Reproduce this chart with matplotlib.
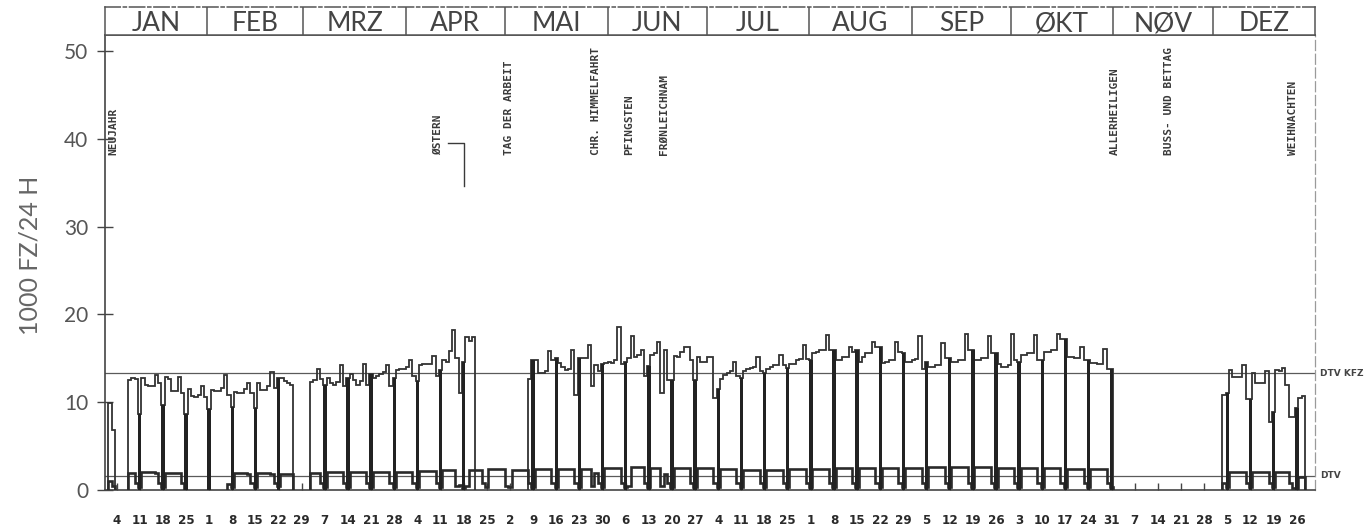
import numpy as np
import pandas as pd
import matplotlib
matplotlib.use("Agg")
import matplotlib.pyplot as plt
import matplotlib.transforms as mtransforms

nan = np.nan

# ---------------- data: 1000 vehicles / 24 h, daily values, 1976 ----------------
kfz_jan = [nan, 9.9, 6.8, nan, nan, nan, nan,
           12.5, 12.8, 12.6, 8.6,
           12.7, 12.0, 11.9, 11.9, 13.1, 12.2, 9.7,
           12.9, 12.6, 11.3, 11.3, 12.9, 11.0, 8.6,
           11.5, 10.7, 10.6, 10.8, 11.8, 10.6]
kfz_feb = [9.2,
           11.4, 11.3, 11.3, 11.6, 13.1, 10.8, 9.5,
           11.2, 11.0, 11.0, 11.5, 12.2, 11.0, 9.3,
           12.2, 11.4, 11.4, 11.8, 13.4, 11.6, 12.7,
           12.7, 12.4, 12.2, 12.0, nan, nan, nan]
kfz_mar = [nan, nan, 12.3, 12.5, 13.8, 12.6, 12.0,
           12.7, 12.2, 12.0, 12.3, 14.2, 11.8, 12.7,
           13.2, 12.5, 12.0, 12.4, 14.4, 12.0, 13.2,
           12.8, 13.0, 13.2, 13.4, 14.2, 11.8, 12.7,
           13.7, 13.8, 13.8]
kfz_apr = [14.0, 14.8, 13.0, 12.4,
           14.2, 14.4, 14.4, 14.4, 15.3, 13.0, 13.7,
           14.8, 14.6, 15.8, 18.2, 15.0, 11.0, 14.6,
           17.4, 17.0, 17.4, nan, nan, nan, nan,
           nan, nan, nan, nan, nan]
kfz_mai = [nan, nan,
           nan, nan, nan, nan, nan, 12.6, 14.8,
           14.8, 13.3, 13.3, 13.5, 15.8, 14.8, 15.0,
           14.5, 14.0, 13.7, 13.8, 15.9, 10.8, 15.0,
           15.0, 15.0, 16.5, 11.8, 14.2, 13.6, 14.4,
           14.5]
kfz_jun = [14.6, 14.5, 14.8, 18.6, 14.4, 14.6,
           15.0, 17.5, 15.2, 15.4, 16.0, 13.0, 14.1,
           15.4, 15.6, 16.9, 11.0, 15.9, 12.5, 12.5,
           15.3, 15.2, 15.7, 16.3, 16.3, 14.8, 12.5,
           15.2, 14.6, 14.6]
kfz_jul = [15.2, 15.2, 10.5, 11.5,
           12.6, 13.1, 13.3, 13.5, 14.6, 13.0, 12.7,
           13.6, 13.8, 13.9, 14.0, 15.2, 13.5, 13.3,
           13.8, 14.0, 14.2, 14.2, 15.4, 14.2, 13.9,
           14.3, 14.4, 14.8, 14.9, 16.5, 14.9]
kfz_aug = [14.8,
           15.6, 15.7, 15.9, 16.0, 17.7, 15.9, 15.9,
           14.8, 14.8, 15.2, 15.2, 16.3, 15.7, 15.9,
           14.6, 15.2, 15.6, 15.6, 16.9, 16.3, 16.3,
           14.5, 14.6, 14.8, 14.8, 16.9, 15.7, 15.6,
           14.6, 14.6]
kfz_sep = [14.8, 14.9, 17.5, 13.8, 14.6,
           14.0, 14.0, 14.2, 14.2, 16.7, 15.0, 15.0,
           14.6, 14.6, 14.8, 14.8, 17.8, 15.9, 15.9,
           14.8, 14.8, 15.0, 15.0, 17.5, 15.6, 15.6,
           14.4, 14.0, 14.0, 14.2]
kfz_okt = [17.8, 14.8, 14.6,
           15.4, 15.4, 15.6, 15.6, 17.7, 14.8, 14.8,
           15.7, 15.7, 15.9, 15.9, 17.8, 17.2, 17.2,
           15.2, 15.2, 15.0, 15.0, 16.3, 14.8, 14.8,
           14.5, 14.5, 14.4, 14.4, 16.1, 13.8, 13.8]
kfz_nov = [nan] * 30
kfz_dez = [nan, nan, nan, 10.8, 11.0,
           13.7, 12.9, 12.9, 12.9, 14.2, 10.4, 10.4,
           13.3, 12.2, 12.2, 12.2, 13.5, 7.8, 8.9,
           13.7, 13.5, 13.9, 12.0, 8.3, 8.3, 9.3,
           10.5, 10.7, nan, nan, nan]

sv_jan = [nan, 1.0, 0.5, nan, nan, nan, nan,
          1.9, 1.9, 0.8, 0.3,
          2.0, 2.0, 2.0, 2.0, 1.9, 0.8, 0.3,
          1.9, 1.9, 1.9, 1.9, 1.9, 0.8, nan,
          nan, nan, nan, nan, nan, nan]
sv_feb = [nan,
          nan, nan, nan, nan, nan, 0.7, 0.3,
          1.9, 1.9, 1.9, 1.9, 1.8, 0.8, 0.3,
          1.9, 1.9, 1.9, 1.9, 1.8, 0.8, 0.4,
          1.8, 1.8, 1.8, 1.8, nan, nan, nan]
sv_mar = [nan, nan, 1.9, 1.9, 1.9, 0.8, 0.3,
          2.0, 2.0, 2.0, 2.0, 2.0, 0.8, 0.3,
          2.0, 2.0, 2.0, 2.0, 2.0, 0.8, 0.3,
          2.1, 2.1, 2.1, 2.1, 2.1, 0.8, 0.3,
          2.1, 2.1, 2.1]
sv_apr = [2.1, 2.1, 0.8, 0.3,
          2.2, 2.2, 2.2, 2.2, 2.2, 0.8, 0.3,
          2.3, 2.3, 2.3, 2.3, 0.4, 0.6, 0.2,
          0.4, 2.3, 2.3, 2.3, 2.3, 0.8, 0.3,
          2.4, 2.4, 2.4, 2.4, 2.4]
sv_mai = [0.4, 0.3,
          2.3, 2.3, 2.3, 2.3, 2.3, 0.8, 0.3,
          2.4, 2.4, 2.4, 2.4, 2.4, 0.8, 0.3,
          2.4, 2.4, 2.4, 2.4, 2.4, 0.8, 0.3,
          2.4, 2.4, 2.4, 0.4, 1.9, 0.8, 0.3,
          2.5]
sv_jun = [2.5, 2.5, 2.5, 2.5, 0.8, 0.3,
          0.4, 2.6, 2.6, 2.6, 2.6, 0.8, 0.3,
          2.5, 2.5, 2.5, 0.5, 1.8, 0.8, 0.3,
          2.5, 2.5, 2.5, 2.5, 2.5, 0.8, 0.3,
          2.5, 2.5, 2.5]
sv_jul = [2.5, 2.5, 0.8, 0.3,
          2.4, 2.4, 2.4, 2.4, 2.4, 0.8, 0.3,
          2.3, 2.3, 2.3, 2.3, 2.3, 0.8, 0.3,
          2.3, 2.3, 2.3, 2.3, 2.3, 0.8, 0.3,
          2.4, 2.4, 2.4, 2.4, 2.4, 0.8]
sv_aug = [0.3,
          2.4, 2.4, 2.4, 2.4, 2.4, 0.8, 0.3,
          2.5, 2.5, 2.5, 2.5, 2.5, 0.8, 0.3,
          2.5, 2.5, 2.5, 2.5, 2.5, 0.8, 0.3,
          2.5, 2.5, 2.5, 2.5, 2.5, 0.8, 0.3,
          2.5, 2.5]
sv_sep = [2.5, 2.5, 2.5, 0.8, 0.3,
          2.6, 2.6, 2.6, 2.6, 2.6, 0.8, 0.3,
          2.6, 2.6, 2.6, 2.6, 2.6, 0.8, 0.3,
          2.6, 2.6, 2.6, 2.6, 2.6, 0.8, 0.3,
          2.5, 2.5, 2.5, 2.5]
sv_okt = [2.5, 0.8, 0.3,
          2.5, 2.5, 2.5, 2.5, 2.5, 0.8, 0.3,
          2.5, 2.5, 2.5, 2.5, 2.5, 0.8, 0.3,
          2.4, 2.4, 2.4, 2.4, 2.4, 0.8, 0.3,
          2.4, 2.4, 2.4, 2.4, 2.4, 0.8, 0.3]
sv_nov = [nan] * 30
sv_dez = [nan, nan, nan, 0.8, 0.3,
          2.1, 2.1, 2.1, 2.1, 2.1, 0.8, 0.3,
          2.1, 2.1, 2.1, 2.1, 2.1, 0.8, 0.3,
          2.1, 2.1, 2.1, 2.1, 0.8, 0.2, 0.2,
          1.5, 1.5, nan, nan, nan]

month_names = ["JAN", "FEB", "MRZ", "APR", "MAI", "JUN",
               "JUL", "AUG", "SEP", "ØKT", "NØV", "DEZ"]
holiday_names = ["NEUJAHR", "ØSTERN", "TAG DER ARBEIT", "CHR. HIMMELFAHRT",
                 "PFINGSTEN", "FRØNLEICHNAM", "ALLERHEILIGEN",
                 "BUSS- UND BETTAG", "WEIHNACHTEN"]
holiday_dates = ["1976-01-01", "1976-04-18", "1976-05-01", "1976-05-27",
                 "1976-06-06", "1976-06-17", "1976-11-01", "1976-11-17",
                 "1976-12-25"]
dtv_kfz = 13.3
dtv_sv = 1.65
y_ticks = [0, 10, 20, 30, 40, 50]
y_label = "1000 FZ/24 H"

# ---------------- assemble ----------------
dates = pd.date_range("1976-01-01", "1976-12-31", freq="D")
t = dates.dayofyear.values.astype(float)
kfz = np.array(kfz_jan + kfz_feb + kfz_mar + kfz_apr + kfz_mai + kfz_jun +
               kfz_jul + kfz_aug + kfz_sep + kfz_okt + kfz_nov + kfz_dez, dtype=float)
sv = np.array(sv_jan + sv_feb + sv_mar + sv_apr + sv_mai + sv_jun +
              sv_jul + sv_aug + sv_sep + sv_okt + sv_nov + sv_dez, dtype=float)

ink = "#333333"
W_PX, H_PX = 1369, 529
fig = plt.figure(figsize=(W_PX / 100, H_PX / 100), dpi=100)
fig.patch.set_facecolor("white")

x0, x1 = 105, 1315
y_bot, y_top, y_head = 490, 35, 7
L = x0 / W_PX
Wd = (x1 - x0) / W_PX
B = (H_PX - y_bot) / H_PX
Hh = (y_bot - y_top) / H_PX
ax = fig.add_axes([L, B, Wd, Hh])
px_per_unit = 8.78
ax.set_xlim(0.5, 366.5)
ax.set_ylim(0, (y_bot - y_top) / px_per_unit)

edges = np.append(t - 0.5, t[-1] + 0.5)
ax.stairs(kfz, edges, baseline=0, color=ink, lw=1.3, zorder=3)
ax.stairs(sv, edges, baseline=0, color="#2a2a2a", lw=1.9, zorder=3)

sunday = dates.dayofweek.values == 6
bar_mask = sunday & ~np.isnan(kfz)
ax.bar(t[bar_mask], kfz[bar_mask], width=1.05, color="#222222",
       linewidth=0, zorder=4)

ax.axhline(dtv_kfz, color="#5a5a5a", lw=0.9, zorder=2)
ax.axhline(dtv_sv, color="#5a5a5a", lw=0.9, zorder=2)

# spines / ticks
for s in ["left", "bottom", "top"]:
    ax.spines[s].set_color("#444444")
    ax.spines[s].set_linewidth(1.2)
ax.spines["right"].set_color("#9a9a9a")
ax.spines["right"].set_linewidth(0.9)
ax.spines["right"].set_linestyle((0, (8, 3)))

ax.set_yticks(y_ticks)
ax.set_yticklabels([str(v) for v in y_ticks])
ax.tick_params(axis="y", direction="inout", length=12, width=1.0,
               color="#444444", pad=6, labelsize=15, labelcolor="#555555")
for lab in ax.get_yticklabels():
    lab.set_family("Lato")
    lab.set_weight("normal")

ax.set_xticks(t[sunday])
ax.set_xticklabels([str(d) for d in dates.day.values[sunday]])
ax.tick_params(axis="x", direction="in", length=5, width=1.0,
               color="#444444", pad=17, labelsize=9.5, labelcolor="#2a2a2a")
for lab in ax.get_xticklabels():
    lab.set_family("DejaVu Sans")
    lab.set_stretch("condensed")
    lab.set_weight("bold")

ax.text(-0.062, 0.516, y_label, transform=ax.transAxes, rotation=90,
        ha="center", va="center", fontsize=18, color="#666666",
        family="Lato", weight="normal")

# DTV labels right of the axes
tr = mtransforms.blended_transform_factory(ax.transAxes, ax.transData)
ax.text(1.004, dtv_kfz, "DTV KFZ", transform=tr, ha="left", va="center",
        fontsize=6.5, weight="bold", color="#444444", family="DejaVu Sans")
ax.text(1.004, dtv_sv, "DTV", transform=tr, ha="left", va="center",
        fontsize=6.5, weight="bold", color="#444444", family="DejaVu Sans")

# holiday labels
label_dx = [2.1, -7.7, 0.7, 1.0, 1.0, 0.5, 0.0, 0.3, -0.2]
label_y = (y_bot - 155) / px_per_unit
hol_t = pd.to_datetime(holiday_dates).dayofyear.values.astype(float)
for name, ht, dx in zip(holiday_names, hol_t, label_dx):
    ax.text(ht + dx, label_y, name, rotation=90, ha="center", va="bottom",
            fontsize=8, family="DejaVu Sans Mono", weight="bold",
            color="#3a3a3a", zorder=5)
# bracket for Easter
e_t = hol_t[1]
yb_top = (y_bot - 143) / px_per_unit
yb_bot = (y_bot - 186) / px_per_unit
ax.plot([e_t + label_dx[1] + 2.8, e_t, e_t], [yb_top, yb_top, yb_bot],
        color="#3a3a3a", lw=1.0)

# ---------------- month header ----------------
hax = fig.add_axes([L, (H_PX - y_top) / H_PX, Wd, (y_top - y_head) / H_PX])
hax.set_xlim(0.5, 366.5)
hax.set_ylim(0, 1)
hax.set_xticks([])
hax.set_yticks([])
for s in hax.spines.values():
    s.set_color("#555555")
    s.set_linewidth(1.1)
hax.spines["top"].set_linestyle((0, (10, 2, 2, 2)))
month_start = t[dates.day.values == 1] - 0.5
month_end = np.append(month_start[1:], 366.5)
for ms in month_start[1:]:
    hax.axvline(ms, color="#555555", lw=1.1)
for name, a, b in zip(month_names, month_start, month_end):
    hax.text((a + b) / 2, 0.40, name, ha="center", va="center",
             fontsize=19, family="Lato", weight="normal", color="#444444")

fig.savefig("out.png", dpi=100, facecolor="white")
